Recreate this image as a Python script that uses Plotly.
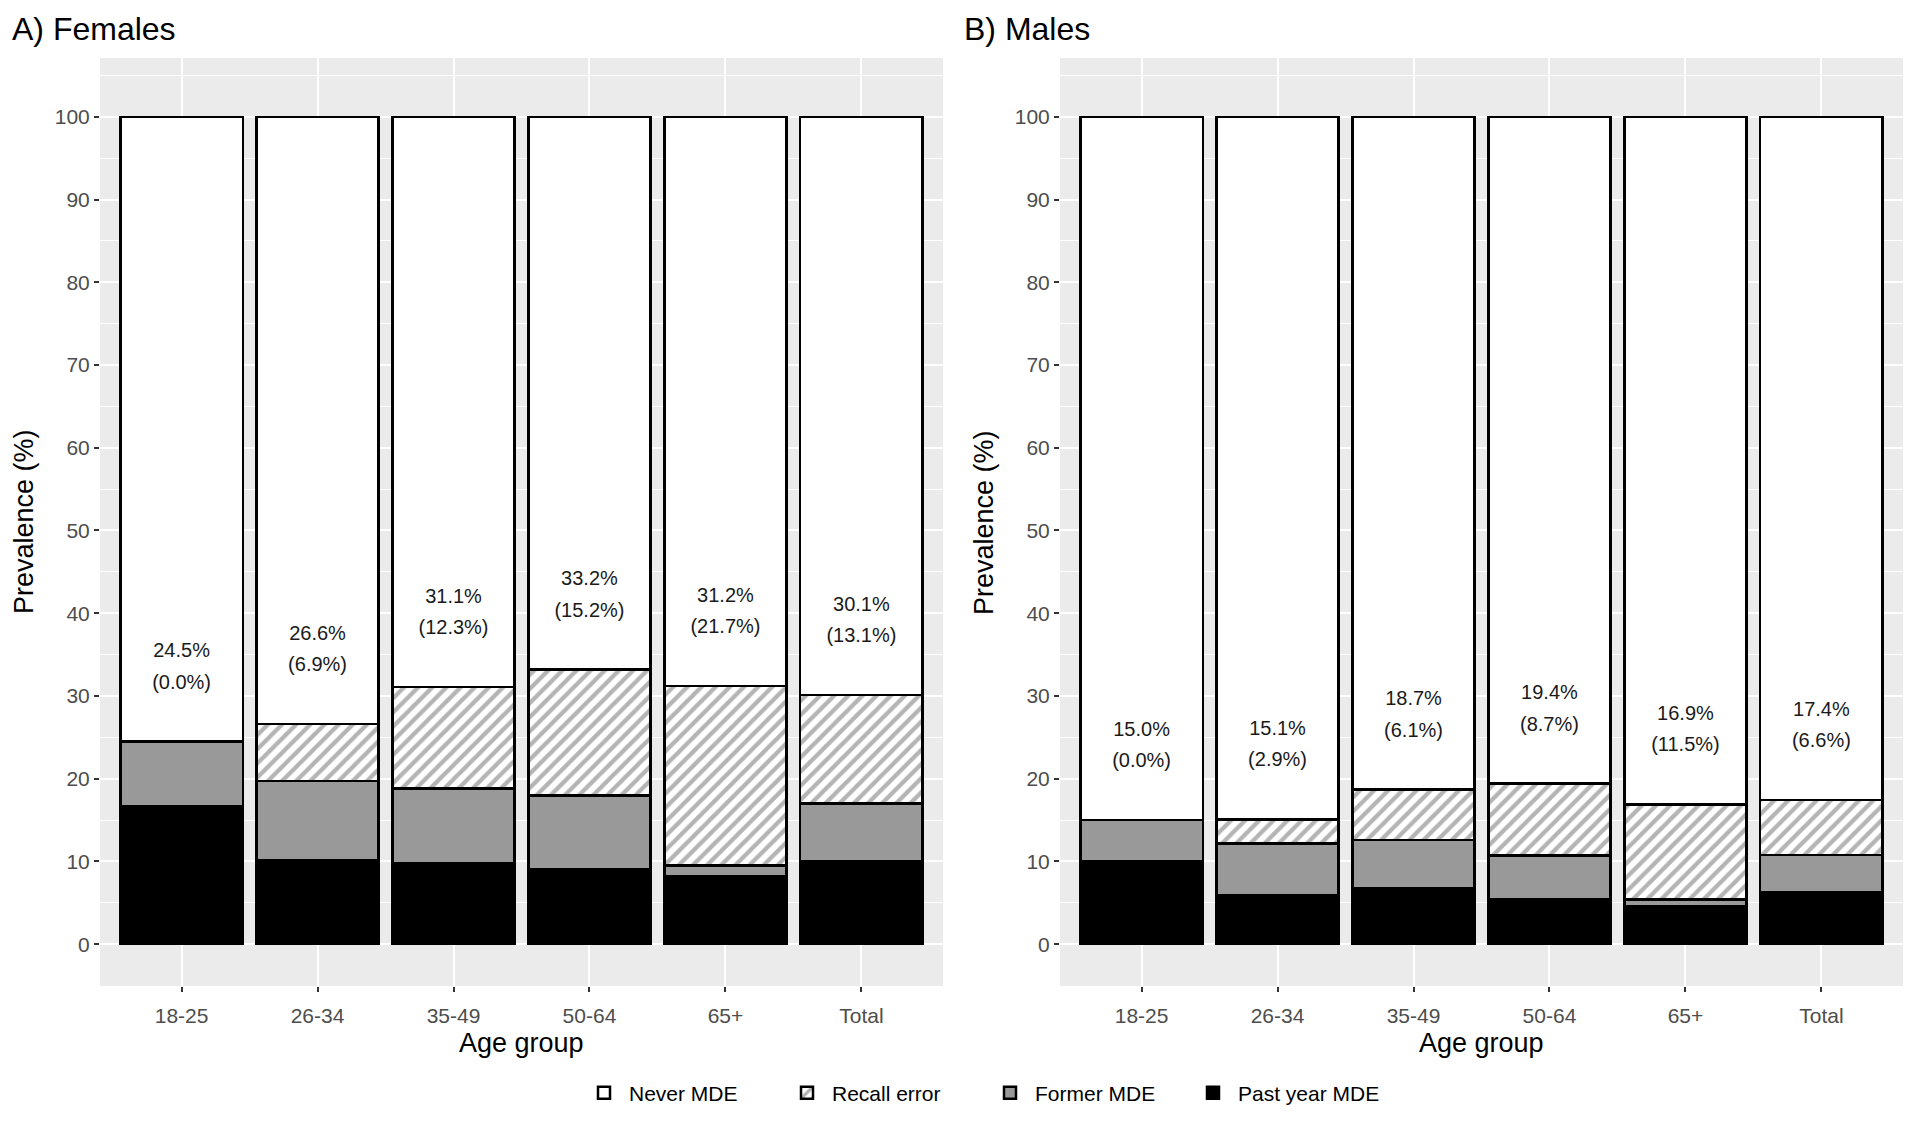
import plotly.graph_objects as go

# ---------------- data ----------------
age_groups = ["18-25", "26-34", "35-49", "50-64", "65+", "Total"]

f_past = [16.7, 10.2, 9.8, 9.0, 8.2, 10.0]
f_former = [7.8, 9.5, 9.0, 9.0, 1.3, 7.0]
f_recall = [0.0, 6.9, 12.3, 15.2, 21.7, 13.1]
f_total = [24.5, 26.6, 31.1, 33.2, 31.2, 30.1]

m_past = [10.0, 5.9, 6.8, 5.4, 4.6, 6.3]
m_former = [5.0, 6.3, 5.8, 5.3, 0.8, 4.5]
m_recall = [0.0, 2.9, 6.1, 8.7, 11.5, 6.6]
m_total = [15.0, 15.1, 18.7, 19.4, 16.9, 17.4]

series_names = ["Never MDE", "Recall error", "Former MDE", "Past year MDE"]
y_ticks = list(range(0, 101, 10))
panel_titles = ["A) Females", "B) Males"]
x_title = "Age group"
y_title = "Prevalence (%)"

FONT = "Liberation Sans, Arial, Helvetica, sans-serif"

# page body has an 8px margin; lay out in window pixel coordinates
OFF = 8
W, H = 1920 - 2 * OFF, 1129 - 2 * OFF


def px(x):
    return (x - OFF) / W


def py(y):
    return 1 - (y - OFF) / H


fig = go.Figure()

panels = [
    (f_past, f_former, f_recall, f_total, "x", "y", True),
    (m_past, m_former, m_recall, m_total, "x2", "y2", False),
]

for past, former, recall, total, xa, ya, show in panels:
    never = [round(100 - t, 1) for t in total]
    line = dict(color="black", width=2.5)
    fig.add_trace(go.Bar(
        x=age_groups, y=past, name=series_names[3], legendgroup="past",
        marker=dict(color="black", line=line), showlegend=show,
        xaxis=xa, yaxis=ya))
    fig.add_trace(go.Bar(
        x=age_groups, y=former, name=series_names[2], legendgroup="former",
        marker=dict(color="#999999", line=line), showlegend=show,
        xaxis=xa, yaxis=ya))
    fig.add_trace(go.Bar(
        x=age_groups, y=recall, name=series_names[1], legendgroup="recall",
        marker=dict(color="white", line=line,
                    pattern=dict(shape="/", fgcolor="#6a6a6a", bgcolor="white",
                                 size=10, solidity=0.42)),
        showlegend=show, xaxis=xa, yaxis=ya))
    fig.add_trace(go.Bar(
        x=age_groups, y=never, name=series_names[0], legendgroup="never",
        marker=dict(color="white", line=line), showlegend=show,
        xaxis=xa, yaxis=ya))
    # labels: total and (recall error)
    fig.add_trace(go.Scatter(
        x=age_groups, y=[t + 10.8 for t in total],
        text=[f"{t:.1f}%" for t in total], mode="text",
        textfont=dict(family=FONT, size=20, color="#1a1a1a"),
        showlegend=False, hoverinfo="skip", xaxis=xa, yaxis=ya))
    fig.add_trace(go.Scatter(
        x=age_groups, y=[t + 7.0 for t in total],
        text=[f"({r:.1f}%)" for r in recall], mode="text",
        textfont=dict(family=FONT, size=20, color="#1a1a1a"),
        showlegend=False, hoverinfo="skip", xaxis=xa, yaxis=ya))

dom_x1 = [px(100), px(943)]
dom_x2 = [px(1060), px(1903)]
dom_y = [py(986), py(58)]

xcommon = dict(range=[-0.6, 5.6], showgrid=True, gridcolor="white", gridwidth=2,
               ticks="outside", ticklen=5, tickwidth=1.5, tickcolor="#333333",
               tickfont=dict(family=FONT, size=21, color="#4d4d4d"),
               ticklabelstandoff=6, zeroline=False, showline=False,
               fixedrange=True)
ycommon = dict(range=[-5.05, 107.1], tickmode="linear", tick0=0, dtick=10,
               showgrid=True, gridcolor="white", gridwidth=2,
               minor=dict(dtick=5, tick0=0, showgrid=True, gridcolor="white",
                          gridwidth=1, ticks=""),
               ticks="outside", ticklen=5, tickwidth=1.5, tickcolor="#333333",
               tickfont=dict(family=FONT, size=21, color="#4d4d4d"),
               zeroline=False, showline=False, fixedrange=True)

fig.update_layout(
    width=W, height=H,
    margin=dict(l=0, r=0, t=0, b=0),
    paper_bgcolor="white", plot_bgcolor="#EBEBEB",
    barmode="stack", bargap=0.1,
    font=dict(family=FONT, color="black"),
    xaxis=dict(domain=dom_x1, anchor="y", **xcommon),
    yaxis=dict(domain=dom_y, anchor="x", **ycommon),
    xaxis2=dict(domain=dom_x2, anchor="y2", **xcommon),
    yaxis2=dict(domain=dom_y, anchor="x2", **ycommon),
    legend=dict(orientation="h", x=px(985), xanchor="center",
                y=py(1093), yanchor="middle", traceorder="reversed",
                font=dict(family=FONT, size=21, color="black"),
                entrywidth=148, entrywidthmode="pixels",
                itemwidth=40, bgcolor="rgba(0,0,0,0)"),
    showlegend=True,
)

# panel titles and axis titles
annos = []
for title, xpx, xcen, ytx in [(panel_titles[0], 10, (100 + 943) / 2, 24),
                              (panel_titles[1], 962, (1060 + 1903) / 2, 984)]:
    annos.append(dict(text=title, x=px(xpx), y=py(9), xref="paper", yref="paper",
                      xanchor="left", yanchor="top", showarrow=False,
                      font=dict(family=FONT, size=32, color="black")))
    annos.append(dict(text=x_title, x=px(xcen), y=py(1043), xref="paper", yref="paper",
                      xanchor="center", yanchor="middle", showarrow=False,
                      font=dict(family=FONT, size=27, color="black")))
    annos.append(dict(text=y_title, x=px(ytx), y=py(522), xref="paper", yref="paper",
                      xanchor="center", yanchor="middle", showarrow=False, textangle=-90,
                      font=dict(family=FONT, size=27, color="black")))
fig.update_layout(annotations=annos)

fig.write_html("out.html")
